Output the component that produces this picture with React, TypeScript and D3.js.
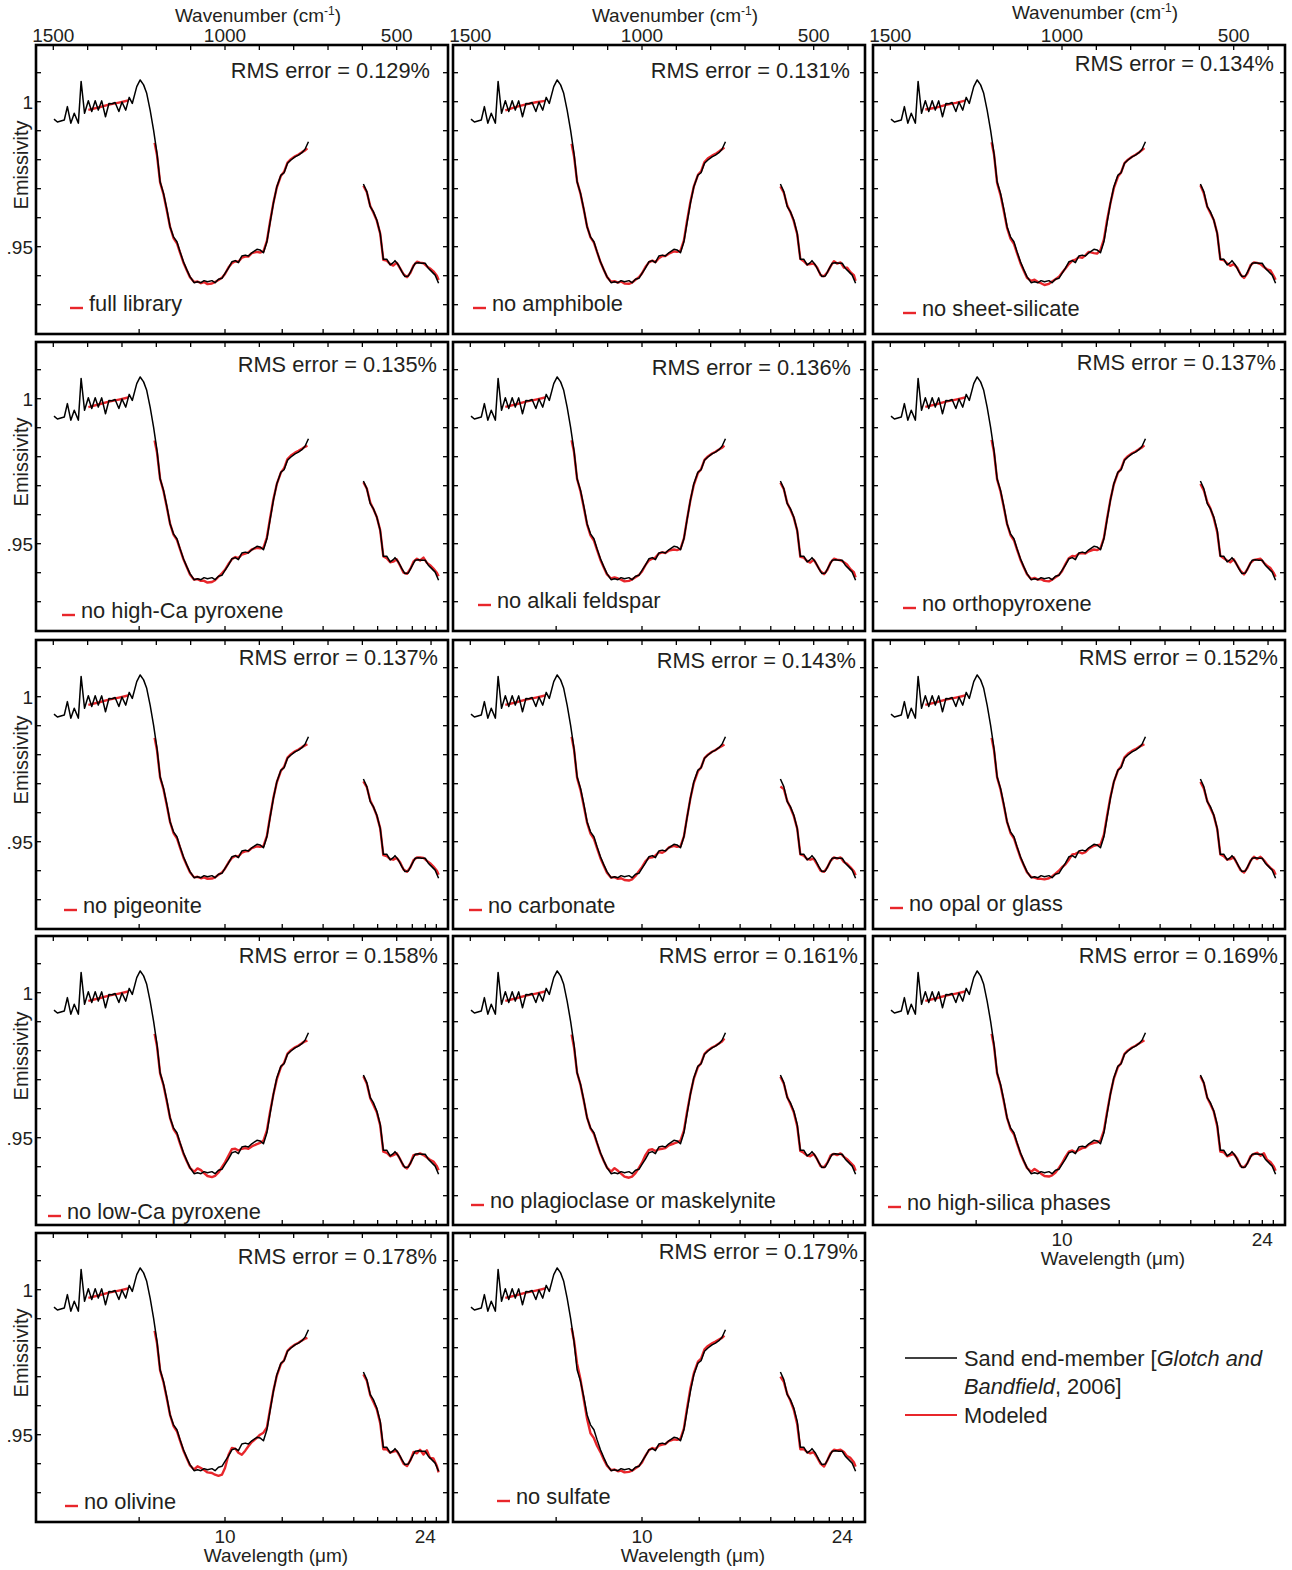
import React from 'react';
import * as d3 from 'd3';

// ---------- DATA ----------
// Measured sand end-member spectrum (black), two segments: wavenumber (cm-1) and emissivity
const blackWn1 = [1498,1488,1468,1459,1449,1439,1427,1419,1409,1398,1388,1378,1369,1359,1348,1338,1329,1320,1309,1300,1289,1279,1270,1257,1247,1237,1228,1218,1208,1198,1189,1179,1169,1160,1150,1140,1131,1121,1111,1102,1090,1080,1070,1061,1051,1038,1029,1019,1009,1000,990,980,970,961,951,941,932,922,907,898,888,878,869,859,849,837,828,818,808,796,786,776,767,757];
const blackEm1 = [.9940,.9930,.9937,.9983,.9926,.9960,.9926,1.0070,.9960,1.0003,.9966,1.0003,.9971,1.0003,.9948,.9994,.9993,.9997,.9966,.9999,.9971,1.0015,.9994,1.0052,1.0075,1.0058,1.0029,.9971,.9902,.9822,.9724,.9684,.9627,.9569,.9534,.9517,.9483,.9448,.9420,.9397,.9376,.9379,.9376,.9383,.9379,.9383,.9376,.9388,.9391,.9408,.9426,.9448,.9452,.9445,.9468,.9471,.9468,.9479,.9491,.9489,.9479,.9517,.9581,.9650,.9707,.9747,.9755,.9788,.9799,.9810,.9816,.9824,.9836,.9862];
const blackWn2 = [597,587,577,568,558,548,539,529,519,510,505,495,485,476,466,456,446,437,427,417,408,398,388,378];
const blackEm2 = [.9716,.9690,.9638,.9621,.9592,.9546,.9457,.9457,.9437,.9445,.9452,.9437,.9414,.9397,.9399,.9422,.9443,.9445,.9443,.9443,.9426,.9414,.9402,.9374];

// Modeled spectra (red) wavenumber grid, three segments
const redWnA = [1398,1369,1338,1309,1282];
const redWnB = [1205,1198,1189,1179,1169,1160,1150,1140,1131,1121,1111,1102,1090,1080,1070,1061,1051,1038,1029,1019,1009,1000,990,980,970,961,951,941,932,922,907,898,888,878,869,859,849,837,828,818,808,796,786,776,767,760];
const redWnC = [597,587,577,568,558,548,539,529,519,510,500,490,480,470,460,451,441,432,422,412,403,393,383,378];

const modeledFullLibrary = [
  .9972,.9980,.9990,.9997,1.0004,
  .9858,.9815,.9722,.9680,.9622,.9568,.9530,.9512,.9480,.9445,.9418,.9395,.9378,.9380,.9374,.9378,.9371,.9373,.9378,.9385,.9393,.9406,.9428,.9443,.9450,.9448,.9462,.9466,.9466,.9478,.9482,.9480,.9484,.9520,.9585,.9652,.9705,.9745,.9758,.9790,.9802,.9812,.9818,.9826,.9832,.9839,
  .9710,.9688,.9640,.9618,.9590,.9545,.9455,.9452,.9440,.9435,.9445,.9425,.9405,.9395,.9410,.9435,.9448,.9445,.9443,.9432,.9425,.9415,.9400,.9385];
const modeledNoAmphibole = [
  .9970,.9981,.9991,.9998,1.0003,
  .9855,.9812,.9725,.9682,.9625,.9570,.9532,.9514,.9482,.9447,.9420,.9396,.9379,.9381,.9376,.9380,.9373,.9372,.9376,.9386,.9395,.9408,.9430,.9446,.9452,.9447,.9460,.9468,.9468,.9476,.9484,.9482,.9486,.9522,.9588,.9655,.9708,.9748,.9760,.9792,.9805,.9814,.9820,.9828,.9836,.9842,
  .9708,.9686,.9642,.9620,.9588,.9543,.9458,.9450,.9438,.9440,.9442,.9428,.9402,.9398,.9412,.9432,.9450,.9442,.9446,.9428,.9428,.9412,.9402,.9382];
const modeledNoSheetSilicate = [
  .9973,.9979,.9989,.9996,1.0004,
  .9860,.9818,.9720,.9678,.9620,.9565,.9528,.9510,.9478,.9443,.9416,.9393,.9382,.9386,.9378,.9374,.9368,.9372,.9380,.9388,.9396,.9410,.9425,.9440,.9452,.9455,.9464,.9462,.9470,.9482,.9478,.9476,.9488,.9525,.9590,.9650,.9702,.9742,.9756,.9788,.9800,.9810,.9817,.9825,.9833,.9840,
  .9712,.9684,.9638,.9616,.9592,.9546,.9456,.9454,.9442,.9434,.9440,.9428,.9404,.9392,.9408,.9436,.9446,.9444,.9440,.9430,.9422,.9418,.9398,.9386];
const modeledNoHighCaPyroxene = [
  .9971,.9980,.9990,.9997,1.0004,
  .9856,.9814,.9724,.9681,.9623,.9569,.9531,.9513,.9481,.9446,.9419,.9394,.9376,.9378,.9372,.9372,.9366,.9368,.9374,.9386,.9398,.9410,.9430,.9446,.9454,.9450,.9462,.9466,.9470,.9480,.9486,.9484,.9486,.9522,.9586,.9654,.9706,.9746,.9760,.9792,.9804,.9814,.9820,.9827,.9834,.9838,
  .9712,.9690,.9642,.9620,.9592,.9546,.9456,.9450,.9436,.9438,.9446,.9424,.9400,.9396,.9414,.9438,.9448,.9442,.9452,.9434,.9426,.9414,.9400,.9388];
const modeledNoAlkaliFeldspar = [
  .9972,.9980,.9990,.9997,1.0004,
  .9857,.9816,.9723,.9680,.9621,.9567,.9529,.9511,.9479,.9444,.9417,.9394,.9380,.9384,.9380,.9376,.9370,.9372,.9377,.9384,.9392,.9404,.9426,.9442,.9448,.9452,.9466,.9470,.9468,.9476,.9480,.9478,.9482,.9518,.9583,.9650,.9703,.9744,.9757,.9789,.9801,.9811,.9817,.9825,.9831,.9838,
  .9710,.9688,.9640,.9618,.9590,.9545,.9455,.9452,.9440,.9435,.9445,.9425,.9405,.9395,.9410,.9435,.9448,.9445,.9443,.9436,.9428,.9412,.9402,.9384];
const modeledNoOrthopyroxene = [
  .9972,.9980,.9990,.9997,1.0004,
  .9858,.9815,.9722,.9680,.9622,.9568,.9530,.9512,.9480,.9445,.9418,.9395,.9378,.9382,.9376,.9378,.9372,.9370,.9376,.9384,.9392,.9405,.9430,.9450,.9458,.9456,.9466,.9468,.9466,.9474,.9480,.9478,.9484,.9520,.9585,.9652,.9705,.9745,.9758,.9790,.9802,.9812,.9818,.9826,.9832,.9839,
  .9706,.9684,.9644,.9622,.9588,.9540,.9458,.9450,.9442,.9436,.9446,.9426,.9406,.9394,.9412,.9434,.9444,.9446,.9448,.9434,.9424,.9416,.9398,.9386];
const modeledNoPigeonite = [
  .9972,.9980,.9990,.9997,1.0004,
  .9858,.9815,.9722,.9680,.9622,.9568,.9530,.9512,.9480,.9445,.9418,.9395,.9377,.9379,.9374,.9377,.9372,.9373,.9377,.9386,.9394,.9407,.9428,.9444,.9451,.9449,.9462,.9467,.9468,.9478,.9484,.9482,.9485,.9520,.9585,.9652,.9705,.9745,.9758,.9790,.9802,.9812,.9818,.9826,.9832,.9836,
  .9708,.9688,.9642,.9620,.9590,.9546,.9454,.9450,.9440,.9438,.9444,.9428,.9404,.9396,.9412,.9436,.9446,.9446,.9444,.9434,.9426,.9414,.9400,.9386];
const modeledNoCarbonate = [
  .9972,.9980,.9990,.9997,1.0004,
  .9862,.9818,.9720,.9678,.9620,.9566,.9528,.9510,.9478,.9443,.9416,.9393,.9376,.9378,.9372,.9374,.9368,.9366,.9370,.9382,.9398,.9412,.9432,.9444,.9446,.9452,.9464,.9462,.9468,.9480,.9486,.9482,.9484,.9518,.9583,.9650,.9703,.9743,.9756,.9788,.9800,.9810,.9816,.9824,.9830,.9835,
  .9690,.9682,.9640,.9618,.9588,.9545,.9456,.9452,.9440,.9438,.9442,.9422,.9400,.9396,.9412,.9434,.9446,.9442,.9446,.9430,.9424,.9412,.9398,.9384];
const modeledNoOpalOrGlass = [
  .9972,.9980,.9990,.9997,1.0004,
  .9858,.9815,.9722,.9680,.9622,.9568,.9530,.9512,.9480,.9445,.9418,.9395,.9378,.9376,.9372,.9372,.9370,.9374,.9380,.9390,.9400,.9412,.9422,.9438,.9456,.9458,.9464,.9460,.9464,.9476,.9486,.9488,.9490,.9524,.9588,.9654,.9706,.9746,.9759,.9791,.9803,.9813,.9819,.9827,.9832,.9836,
  .9706,.9684,.9640,.9616,.9590,.9544,.9456,.9450,.9438,.9440,.9446,.9424,.9402,.9394,.9410,.9434,.9448,.9440,.9448,.9436,.9422,.9410,.9400,.9386];
const modeledNoLowCaPyroxene = [
  .9972,.9980,.9990,.9997,1.0004,
  .9858,.9815,.9722,.9680,.9622,.9568,.9530,.9512,.9480,.9445,.9418,.9396,.9382,.9394,.9388,.9378,.9368,.9364,.9368,.9380,.9398,.9415,.9438,.9460,.9462,.9456,.9462,.9464,.9462,.9470,.9478,.9482,.9490,.9525,.9588,.9650,.9702,.9744,.9758,.9790,.9802,.9812,.9818,.9826,.9832,.9835,
  .9712,.9686,.9636,.9614,.9588,.9542,.9452,.9448,.9436,.9440,.9446,.9426,.9402,.9394,.9412,.9440,.9442,.9446,.9440,.9432,.9424,.9418,.9402,.9388];
const modeledNoPlagioclase = [
  .9972,.9980,.9990,.9997,1.0004,
  .9856,.9812,.9724,.9682,.9624,.9570,.9532,.9513,.9481,.9446,.9419,.9397,.9383,.9395,.9386,.9376,.9366,.9362,.9366,.9378,.9396,.9414,.9440,.9458,.9460,.9454,.9460,.9462,.9464,.9474,.9480,.9484,.9490,.9524,.9588,.9652,.9704,.9744,.9757,.9789,.9801,.9811,.9817,.9825,.9832,.9842,
  .9710,.9686,.9640,.9616,.9588,.9540,.9454,.9448,.9438,.9436,.9444,.9426,.9402,.9398,.9414,.9438,.9444,.9440,.9446,.9434,.9426,.9414,.9402,.9386];
const modeledNoHighSilica = [
  .9972,.9980,.9990,.9997,1.0004,
  .9858,.9815,.9722,.9680,.9622,.9568,.9530,.9512,.9480,.9445,.9418,.9396,.9382,.9392,.9384,.9376,.9368,.9366,.9370,.9380,.9396,.9412,.9434,.9452,.9456,.9450,.9458,.9464,.9466,.9476,.9482,.9484,.9490,.9524,.9587,.9652,.9704,.9744,.9757,.9789,.9801,.9811,.9817,.9825,.9831,.9836,
  .9712,.9688,.9638,.9616,.9590,.9540,.9452,.9450,.9436,.9440,.9444,.9428,.9402,.9398,.9412,.9436,.9444,.9448,.9438,.9446,.9424,.9416,.9400,.9386];
const modeledNoOlivine = [
  .9972,.9980,.9990,.9997,1.0004,
  .9858,.9815,.9722,.9680,.9622,.9568,.9530,.9512,.9480,.9445,.9418,.9394,.9380,.9391,.9385,.9378,.9370,.9368,.9362,.9358,.9362,.9385,.9430,.9454,.9452,.9438,.9431,.9445,.9460,.9475,.9489,.9500,.9507,.9525,.9586,.9652,.9704,.9744,.9757,.9789,.9801,.9811,.9817,.9825,.9831,.9834,
  .9708,.9686,.9636,.9614,.9588,.9540,.9450,.9450,.9438,.9442,.9444,.9424,.9400,.9392,.9412,.9440,.9436,.9448,.9432,.9446,.9420,.9418,.9392,.9370];
const modeledNoSulfate = [
  .9972,.9980,.9990,.9997,1.0004,
  .9868,.9825,.9745,.9690,.9618,.9555,.9505,.9488,.9462,.9440,.9414,.9393,.9378,.9380,.9374,.9376,.9370,.9372,.9376,.9384,.9392,.9404,.9428,.9446,.9454,.9450,.9462,.9466,.9468,.9478,.9484,.9482,.9486,.9522,.9590,.9660,.9712,.9752,.9762,.9794,.9806,.9815,.9821,.9828,.9834,.9842,
  .9700,.9682,.9640,.9618,.9586,.9536,.9450,.9450,.9440,.9436,.9440,.9422,.9400,.9390,.9412,.9436,.9448,.9446,.9448,.9440,.9426,.9420,.9405,.9390];

const panelNames = ['full library','no amphibole','no sheet-silicate','no high-Ca pyroxene','no alkali feldspar','no orthopyroxene','no pigeonite','no carbonate','no opal or glass','no low-Ca pyroxene','no plagioclase or maskelynite','no high-silica phases','no olivine','no sulfate'];
const rmsErrors = ['0.129','0.131','0.134','0.135','0.136','0.137','0.137','0.143','0.152','0.158','0.161','0.169','0.178','0.179'];
const modeledSeries = [modeledFullLibrary,modeledNoAmphibole,modeledNoSheetSilicate,modeledNoHighCaPyroxene,modeledNoAlkaliFeldspar,modeledNoOrthopyroxene,modeledNoPigeonite,modeledNoCarbonate,modeledNoOpalOrGlass,modeledNoLowCaPyroxene,modeledNoPlagioclase,modeledNoHighSilica,modeledNoOlivine,modeledNoSulfate];

const wnTicks = [1500,1400,1300,1200,1100,1000,900,800,700,600,500,400];
const wnTickLabels = [1500,1000,500];
const wlTicks = [8,10,12,14,16,18,20,22,24,26];
const wlTickLabels = [10,24];
const emTicks = [.93,.94,.95,.96,.97,.98,.99,1.0,1.01];
const emTickLabels = [1, .95];

// ---------- LAYOUT ----------
const colLefts = [36, 453, 873];
const rowTops = [45, 342, 640, 936, 1233];
const PW = 412;
const PH = 289;
// per-panel label placement (absolute): [rms right x, rms center y, label text x, label center y]
const labelPlacement = [
  [430,70,89,304],[850,70,492,304],[1274,63,922,309],
  [437,364,81,611],[851,367,497,601],[1276,362,922,604],
  [438,657,83,906],[856,660,488,906],[1278,657,909,904],
  [438,955,67,1212],[858,955,490,1201],[1278,955,907,1203],
  [437,1256,84,1502],[858,1251,516,1497],
];
const topTitleY = [22, 22, 19];

const FONT = 'Liberation Sans, Arial, Helvetica, sans-serif';
const RED = '#e8262b';
const TEXT = '#231f20';
const AXF = 19;
const LBF = 21.8;

const x = d3.scaleLinear().domain([1500, 500]).range([17.3, 360.7]);
const y = d3.scaleLinear().domain([1, 0.95]).range([56.7, 201.7]);
const line = d3.line<[number, number]>().x(d => x(d[0])).y(d => y(d[1]));

function zip(w: number[], e: number[]): [number, number][] {
  return w.map((v, i) => [v, e[i]] as [number, number]);
}

function Panel({ idx }: { idx: number }) {
  const col = idx % 3;
  const row = Math.floor(idx / 3);
  const left = colLefts[col];
  const top = rowTops[row];
  const m = modeledSeries[idx];
  const nA = redWnA.length, nB = redWnB.length;
  const redA = zip(redWnA, m.slice(0, nA));
  const redB = zip(redWnB, m.slice(nA, nA + nB));
  const redC = zip(redWnC, m.slice(nA + nB));
  const blk1 = zip(blackWn1, blackEm1);
  const blk2 = zip(blackWn2, blackEm2);
  const tickLen = 5;
  const [rmsX, rmsY, labX, labY] = labelPlacement[idx];
  const hasBottomLabels = row === 4 || (row === 3 && col === 2);
  return (
    <g>
      <g transform={`translate(${left},${top})`}>
        {[redA, redB, redC].map((d, i) => (
          <path key={'r' + i} d={line(d) || ''} fill="none" stroke={RED} strokeWidth={2.4} strokeLinejoin="round" />
        ))}
        {[blk1, blk2].map((d, i) => (
          <path key={'b' + i} d={line(d) || ''} fill="none" stroke="#000" strokeWidth={1.5} strokeLinejoin="round" />
        ))}
        {wnTicks.map(t => (
          <line key={'tt' + t} x1={x(t)} x2={x(t)} y1={0} y2={tickLen} stroke="#000" strokeWidth={1.3} />
        ))}
        {wlTicks.map(t => (
          <line key={'bt' + t} x1={x(10000 / t)} x2={x(10000 / t)} y1={PH} y2={PH - tickLen} stroke="#000" strokeWidth={1.3} />
        ))}
        {emTicks.map(t => (
          <g key={'yt' + t}>
            <line x1={0} x2={tickLen} y1={y(t)} y2={y(t)} stroke="#000" strokeWidth={1.3} />
            <line x1={PW} x2={PW - tickLen} y1={y(t)} y2={y(t)} stroke="#000" strokeWidth={1.3} />
          </g>
        ))}
        <rect x={0} y={0} width={PW} height={PH} fill="none" stroke="#000" strokeWidth={2.6} />
        {row === 0 && wnTickLabels.map(t => (
          <text key={'wl' + t} x={x(t)} y={-3} textAnchor="middle" fontSize={AXF} fill={TEXT}>{t}</text>
        ))}
        {col === 0 && emTickLabels.map(t => (
          <text key={'el' + t} x={-3} y={y(t) + 7} textAnchor="end" fontSize={AXF} fill={TEXT}>{t === 1 ? '1' : '.95'}</text>
        ))}
        {hasBottomLabels && wlTickLabels.map(t => (
          <text key={'bl' + t} x={x(10000 / t)} y={PH + 21} textAnchor="middle" fontSize={AXF} fill={TEXT}>{t}</text>
        ))}
        {hasBottomLabels && (
          <text x={x(10000 / 10) + 51} y={PH + 40} textAnchor="middle" fontSize={AXF} fill={TEXT}>Wavelength (μm)</text>
        )}
        {row === 0 && (
          <text x={222} y={topTitleY[col] - top} textAnchor="middle" fontSize={AXF} fill={TEXT}>
            Wavenumber (cm<tspan fontSize={12} dy={-7}>-1</tspan><tspan dy={7}>)</tspan>
          </text>
        )}
        {col === 0 && (
          <text transform={`translate(${28 - left},${120})rotate(-90)`} textAnchor="middle" fontSize={20} fill={TEXT}>Emissivity</text>
        )}
      </g>
      <text x={rmsX} y={rmsY + 7.5} textAnchor="end" fontSize={LBF} fill={TEXT}>RMS error = {rmsErrors[idx]}%</text>
      <line x1={labX - 19} x2={labX - 6} y1={labY + 4} y2={labY + 4} stroke={RED} strokeWidth={2.4} />
      <text x={labX} y={labY + 7} fontSize={LBF} fill={TEXT}>{panelNames[idx]}</text>
    </g>
  );
}

export default function App() {
  return (
    <svg width={1292} height={1570} style={{ position: 'absolute', left: 0, top: 0, background: '#fff' }} fontFamily={FONT}>
      <rect x={0} y={0} width={1292} height={1570} fill="#fff" />
      {panelNames.map((_, i) => <Panel key={i} idx={i} />)}
      <g>
        <line x1={905} x2={957} y1={1358} y2={1358} stroke="#000" strokeWidth={1.5} />
        <text x={964} y={1366} fontSize={LBF} fill={TEXT}>Sand end-member [<tspan fontStyle="italic">Glotch and</tspan></text>
        <text x={964} y={1394} fontSize={LBF} fill={TEXT}><tspan fontStyle="italic">Bandfield</tspan>, 2006]</text>
        <line x1={905} x2={957} y1={1415} y2={1415} stroke={RED} strokeWidth={2} />
        <text x={964} y={1423} fontSize={LBF} fill={TEXT}>Modeled</text>
      </g>
    </svg>
  );
}
